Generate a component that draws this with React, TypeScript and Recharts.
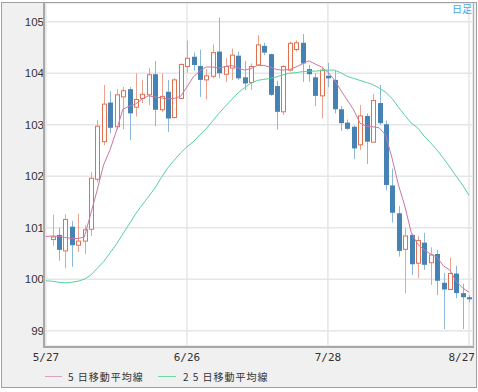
import React from 'react';
import { ComposedChart, Bar, Line, XAxis, YAxis, CartesianGrid } from 'recharts';

// Trading-day index 0..66 (index 0 = 5/27, its candle is outside the view)
const openVals: (number | null)[] = [null,
  100.77, 100.86, 100.55, 101.02, 100.66, 100.74, 100.97, 101.94, 102.67, 103.43,
  102.96, 103.54, 103.69, 103.34, 103.51, 103.58, 103.98, 103.29, 103.64, 103.14,
  103.51, 104.13, 104.32, 104.14, 103.87, 103.94, 104.42, 103.98, 104.10, 104.34,
  103.92, 103.82, 104.16, 104.53, 104.37, 103.75, 103.25, 104.06, 104.46, 104.59,
  104.08, 103.92, 103.56, 103.95, 103.87, 103.30, 103.04, 102.96, 102.61, 103.17,
  102.66, 103.42, 103.01, 101.82, 101.28, 100.58, 100.86, 100.31, 100.71, 100.32,
  100.49, 99.93, 99.80, 100.11, 99.73, 99.65];
const highVals: (number | null)[] = [null,
  101.25, 101.00, 101.26, 101.13, 101.27, 101.05, 102.08, 103.09, 103.77, 103.65,
  103.69, 103.73, 103.73, 104.00, 103.87, 104.10, 104.24, 104.00, 103.87, 103.90,
  104.19, 104.63, 104.40, 104.46, 104.08, 104.56, 105.08, 104.29, 104.48, 104.42,
  104.24, 104.19, 104.74, 104.59, 104.38, 103.85, 104.16, 104.61, 104.64, 104.76,
  104.16, 104.00, 104.13, 104.20, 104.06, 103.36, 103.10, 102.99, 103.38, 103.22,
  103.60, 103.77, 103.08, 102.15, 101.42, 100.99, 100.89, 100.84, 100.90, 100.62,
  100.57, 100.12, 100.42, 100.26, 99.91, 99.69];
const lowVals: (number | null)[] = [null,
  100.65, 100.36, 100.21, 100.24, 100.53, 100.49, 100.84, 101.88, 102.60, 102.83,
  102.90, 102.91, 102.70, 103.16, 103.42, 103.38, 102.97, 103.25, 102.86, 103.12,
  103.50, 104.01, 104.05, 103.54, 103.49, 103.90, 103.90, 103.83, 103.87, 103.87,
  103.67, 103.67, 104.16, 104.35, 103.56, 102.91, 103.19, 104.03, 104.42, 103.83,
  103.83, 103.36, 103.12, 103.73, 103.22, 102.88, 102.90, 102.33, 102.51, 102.24,
  102.66, 103.00, 101.73, 101.10, 100.44, 99.73, 100.08, 100.02, 100.18, 99.89,
  99.69, 99.03, 99.79, 99.63, 99.03, 99.55];
const closeVals: (number | null)[] = [null,
  100.82, 100.57, 101.16, 100.66, 100.74, 100.96, 101.96, 102.97, 103.40, 102.94,
  103.58, 103.66, 103.22, 103.49, 103.59, 103.97, 103.29, 103.55, 103.12, 103.87,
  104.17, 104.29, 104.16, 103.87, 103.95, 104.40, 104.00, 104.13, 104.35, 103.90,
  103.80, 104.13, 104.55, 104.40, 103.58, 103.25, 104.13, 104.58, 104.59, 104.19,
  103.98, 103.56, 104.06, 103.90, 103.30, 103.03, 102.92, 102.54, 103.17, 102.67,
  103.47, 103.03, 101.83, 101.29, 100.55, 100.84, 100.29, 100.75, 100.28, 100.47,
  99.97, 99.80, 100.11, 99.73, 99.65, 99.61];
const ma5Vals: number[] = [
  100.83, 100.84, 100.83, 100.81, 100.79, 100.79, 100.82, 101.27, 101.73, 102.22,
  102.51, 102.88, 103.30, 103.36, 103.40, 103.50, 103.56, 103.54, 103.52, 103.50,
  103.51, 103.55, 103.73, 103.93, 104.04, 104.12, 104.12, 104.10, 104.13, 104.15,
  104.10, 104.06, 104.09, 104.15, 104.15, 104.12, 104.07, 104.06, 104.07, 104.12,
  104.18, 104.24, 104.18, 104.12, 104.02, 103.87, 103.67, 103.48, 103.29, 103.03,
  102.97, 102.96, 102.94, 102.80, 102.35, 101.83, 101.42, 100.90, 100.68, 100.57,
  100.49, 100.43, 100.26, 100.18, 99.96, 99.83, 99.75];
const ma25Vals: number[] = [
  99.97, 99.96, 99.94, 99.93, 99.94, 99.96, 100.00, 100.08, 100.21, 100.34,
  100.51, 100.68, 100.88, 101.07, 101.27, 101.44, 101.60, 101.77, 101.97, 102.16,
  102.31, 102.45, 102.57, 102.67, 102.80, 102.92, 103.07, 103.22, 103.36, 103.49,
  103.62, 103.72, 103.81, 103.86, 103.88, 103.90, 103.93, 103.97, 104.00, 104.01,
  104.03, 104.04, 104.04, 104.05, 104.06, 104.06, 104.01, 103.94, 103.90, 103.86,
  103.82, 103.78, 103.71, 103.63, 103.51, 103.34, 103.18, 103.03, 102.94, 102.78,
  102.65, 102.51, 102.35, 102.18, 102.00, 101.83, 101.63];

const xTickIndex = [0, 22, 44, 66];
const xTickLabels = ['5/27', '6/26', '7/28', '8/27'];
const yTicks = [99, 100, 101, 102, 103, 104, 105];
const legendNames = ['5 日移動平均線', '2 5 日移動平均線'];

const data = ma5Vals.map((_, i) => ({
  i,
  open: openVals[i],
  high: highVals[i],
  low: lowVals[i],
  close: closeVals[i],
  ma5: ma5Vals[i],
  ma25: ma25Vals[i],
}));

const UP = '#e2704f';
const UP_WICK = '#eba28e';
const DOWN = '#4682b4';
const DOWN_WICK = '#8db6db';
const MA5_COLOR = '#c878a2';
const MA25_COLOR = '#58d09b';

const Candle = (props: any) => {
  const { x, y, width, height, payload } = props;
  if (!payload || payload.open == null || payload.high == null) return null;
  const top = Math.min(y, y + height);
  const h = Math.abs(height);
  const span = payload.high - payload.low || 1;
  const py = (v: number) => top + ((payload.high - v) / span) * h;
  const cx = Math.round(x + width / 2) + 0.5;
  const up = payload.close >= payload.open;
  const yO = py(payload.open);
  const yC = py(payload.close);
  const bTop = Math.min(yO, yC);
  const bH = Math.max(1, Math.abs(yC - yO));
  return (
    <g>
      <line x1={cx} x2={cx} y1={top} y2={top + h} stroke={up ? UP_WICK : DOWN_WICK} strokeWidth={1} />
      {up ? (
        <rect x={cx - 2} y={bTop} width={4} height={bH} fill="#fff" stroke={UP} strokeWidth={1} />
      ) : (
        <rect x={cx - 2.5} y={bTop} width={5} height={bH} fill={DOWN} stroke="none" />
      )}
    </g>
  );
};

const XTick = (props: any) => {
  const { x, y, payload } = props;
  const k = xTickIndex.indexOf(payload.value);
  const label = k >= 0 ? xTickLabels[k] : '';
  const last = k === xTickIndex.length - 1;
  return (
    <text
      x={last ? x + 6 : x}
      y={y + 15}
      textAnchor={last ? 'end' : 'middle'}
      fill="#333"
      fontSize={11}
      fontFamily="'DejaVu Sans Mono', monospace"
    >
      {label}
    </text>
  );
};

const legendText: React.CSSProperties = {
  position: 'absolute', top: 369, height: 16, lineHeight: '16px',
  fontFamily: "'Noto Sans CJK JP', sans-serif", fontSize: 10, color: '#333', letterSpacing: 1, whiteSpace: 'nowrap',
};

export default function App() {
  return (
    <div style={{ position: 'absolute', left: 0, top: 0, width: 478, height: 392, background: '#fff', overflow: 'hidden' }}>
      <div
        style={{
          position: 'absolute', left: 1, top: 2, width: 476, height: 386,
          boxSizing: 'border-box', border: '1px solid #a0a0a0', background: '#f0f0f0',
        }}
      />
      <div style={{ position: 'absolute', left: 0, top: 0 }}>
        <ComposedChart width={478} height={392} data={data} margin={{ top: 3, right: 5, bottom: 0, left: 5 }}>
          <CartesianGrid fill="#fff" stroke="#e6e6e6" strokeWidth={1.5} />
          <XAxis
            dataKey="i"
            type="number"
            domain={[-0.14, 66.63]}
            allowDataOverflow
            ticks={xTickIndex}
            interval={0}
            height={46}
            tickSize={0}
            tickMargin={0}
            axisLine={false}
            tick={<XTick />}
          />
          <YAxis
            type="number"
            domain={[98.703, 105.363]}
            allowDataOverflow
            ticks={yTicks}
            interval={0}
            width={40}
            tickSize={0}
            tickMargin={1}
            axisLine={false}
            tick={{ fill: '#333', fontSize: 11.5, fontFamily: "'Liberation Sans', Arial, sans-serif" }}
          />
          <Bar
            dataKey={(d: any) => (d.high == null ? null : [d.low, d.high])}
            barSize={5}
            shape={<Candle />}
            isAnimationActive={false}
            legendType="none"
          />
          <Line dataKey="ma25" name={legendNames[1]} stroke={MA25_COLOR} strokeWidth={1} dot={false} isAnimationActive={false} />
          <Line dataKey="ma5" name={legendNames[0]} stroke={MA5_COLOR} strokeWidth={1} dot={false} isAnimationActive={false} />
        </ComposedChart>
      </div>
      <div
        style={{
          position: 'absolute', left: 43, top: 2, width: 431, height: 346, boxSizing: 'border-box',
          borderLeft: '2px solid #a8a8a8', borderBottom: '2px solid #a8a8a8',
          borderTop: '1px solid #a0a0a0', borderRight: '1px solid #b0b0b0', pointerEvents: 'none',
        }}
      />
      <div
        style={{
          position: 'absolute', left: 452, top: 3, fontSize: 10, lineHeight: '12px', color: '#45a8e6',
          fontFamily: "'Noto Sans CJK JP', sans-serif",
        }}
      >
        日足
      </div>
      <div style={{ position: 'absolute', left: 45, top: 376, width: 17, height: 1, background: '#d9a3bd' }} />
      <div style={{ ...legendText, left: 68 }}>{legendNames[0]}</div>
      <div style={{ position: 'absolute', left: 158, top: 376, width: 18, height: 1, background: '#72d8ab' }} />
      <div style={{ ...legendText, left: 183 }}>{legendNames[1]}</div>
    </div>
  );
}
